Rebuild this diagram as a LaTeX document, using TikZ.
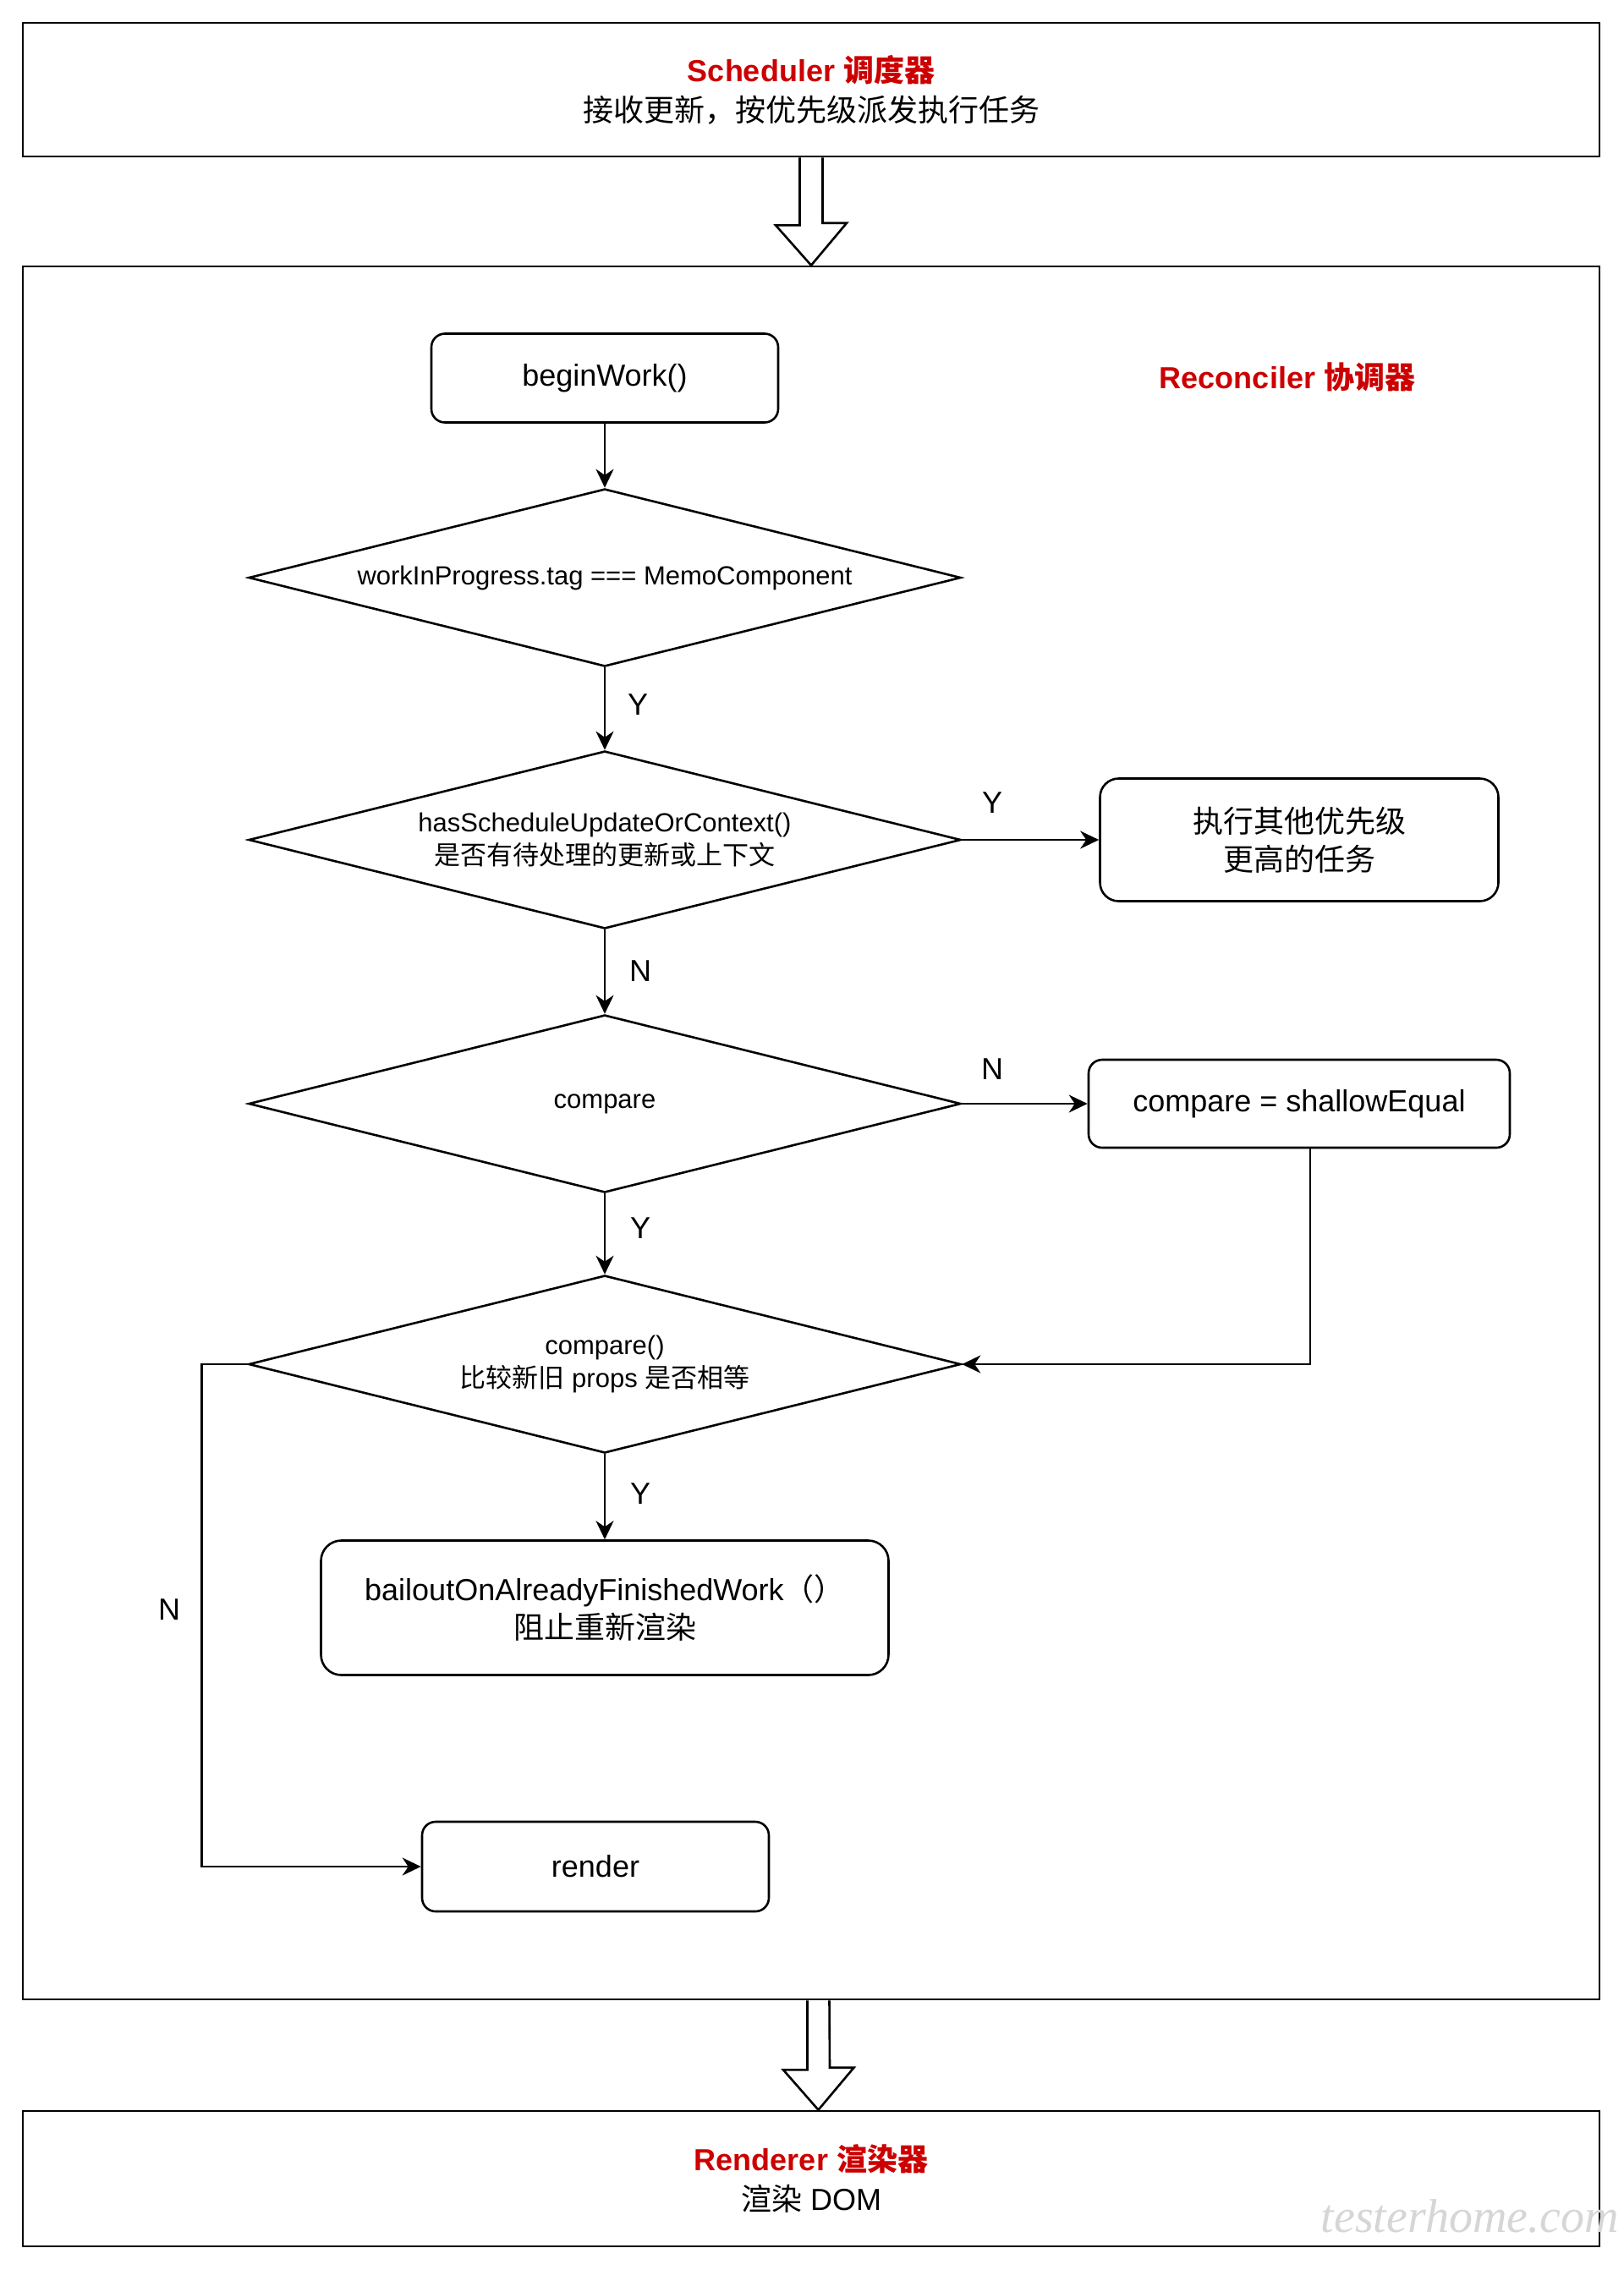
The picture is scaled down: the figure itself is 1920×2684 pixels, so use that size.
\documentclass[tikz,border=0pt]{standalone}
\usepackage{fontspec}
\setmainfont{Liberation Sans}
\newfontfamily\cjk{Noto Sans CJK SC}
\newfontfamily\wmfont{Liberation Serif}
\usetikzlibrary{shapes.geometric,arrows.meta,calc}
\newcommand{\zh}[1]{{\cjk #1}}
\definecolor{dred}{HTML}{CC0000}
\begin{document}
\begin{tikzpicture}[x=0.5pt,y=-0.5pt,line width=1.3pt,
  outer/.style={draw,minimum width=932pt,inner sep=0pt,align=center,font=\fontsize{18}{23.5}\selectfont},
  rbox/.style={draw,rounded corners=8pt,align=center,inner sep=0pt,font=\fontsize{18}{22.5}\selectfont},
  dia/.style={draw,diamond,aspect=4,minimum width=421pt,minimum height=105pt,inner sep=0pt,align=center,font=\fontsize{15.5}{19.5}\selectfont},
  lbl/.style={inner sep=0pt,font=\fontsize{18}{22}\selectfont},
  redtxt/.style={inner sep=0pt,text=dred,font=\bfseries\fontsize{18}{22}\selectfont},
  conn/.style={-{Stealth[length=11pt,width=10.5pt,inset=3.5pt]}},
  blockarrow/.style={draw,fill=white,line join=miter}
]
\useasboundingbox (0,0) rectangle (1920,2684);

% outer boxes
\node[outer,minimum height=79pt] (sched) at (959,106)
  {{\color{dred}\bfseries Scheduler \zh{调度器}}\\\zh{接收更新，按优先级派发执行任务}};
\node[outer,minimum height=1024.5pt] (recon) at (959,1339.5) {};
\node[outer,minimum height=80pt] (rend) at (959,2576)
  {{\color{dred}\bfseries Renderer \zh{渲染器}}\\\zh{渲染} DOM};

% block arrows
\draw[blockarrow] ([xshift=-6.75pt]sched.south) -- ++(0,80) -- ++(-28.5,0)
  -- (recon.north) -- ++(42,-50) -- ++(-28.5,0) -- ([xshift=6.75pt]sched.south);
\draw[blockarrow] ([xshift=-2.25pt]recon.south) -- ++(0,82) -- ++(-28.5,0)
  -- ([xshift=4.25pt]rend.north) -- ++(42,-50) -- ++(-28.5,0) -- ([xshift=10.75pt]recon.south);

% reconciler label
\node[redtxt] (rlab) at (1522,446) {Reconciler \zh{协调器}};

% flow nodes
\node[rbox,minimum width=205pt,minimum height=52.5pt] (bw) at (715,447) {beginWork()};
\node[dia] (d1) at (715,683) {workInProgress.tag === MemoComponent};
\node[dia] (d2) at (715,993) {hasScheduleUpdateOrContext()\\\zh{是否有待处理的更新或上下文}};
\node[dia] (d3) at (715,1305) {compare};
\node[dia] (d4) at (715,1613) {compare()\\\zh{比较新旧} props \zh{是否相等}};
\node[rbox,rounded corners=11pt,minimum width=235.5pt,minimum height=72.5pt] (b1) at (1536,993)
  {\zh{执行其他优先级}\\\zh{更高的任务}};
\node[rbox,minimum width=249pt,minimum height=52pt] (b2) at (1536,1305) {compare = shallowEqual};
\node[rbox,rounded corners=12pt,minimum width=335.5pt,minimum height=79.5pt] (bo) at (715,1901)
  {bailoutOnAlreadyFinishedWork\zh{（）}\\\zh{阻止重新渲染}};
\node[rbox,minimum width=205pt,minimum height=53pt] (rd) at (704,2207) {render};

% connectors
\draw[conn] (bw) -- (d1);
\draw[conn] (d1) -- (d2);
\draw[conn] (d2) -- (b1);
\draw[conn] (d2) -- (d3);
\draw[conn] (d3) -- (b2);
\draw[conn] (d3) -- (d4);
\draw[conn] ([xshift=6.5pt]b2.south) |- (d4.east);
\draw[conn] (d4) -- (bo);
\draw[conn] (d4.west) -- ++(-54,0) |- (rd.west);

% labels
\node[lbl] (y1) at (754,833) {Y};
\node[lbl] (y2) at (1173,949) {Y};
\node[lbl] (n1) at (757,1148) {N};
\node[lbl] (n2) at (1173,1264) {N};
\node[lbl] (y3) at (757,1452) {Y};
\node[lbl] (y4) at (757,1766) {Y};
\node[lbl] (n3) at (200,1903) {N};

% watermark
\node[inner sep=0pt,anchor=south east,text=black!16,font=\wmfont\itshape\fontsize{28}{28}\selectfont] (wm) at (1915,2642) {testerhome.com};
\end{tikzpicture}
\end{document}
